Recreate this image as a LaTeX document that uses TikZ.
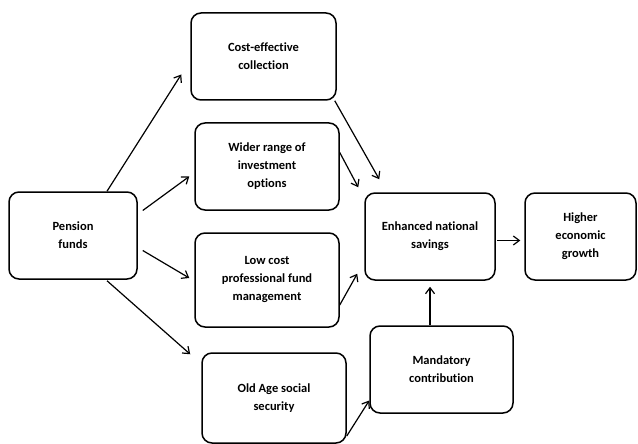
\documentclass[tikz,border=0pt]{standalone}
\usepackage{fontspec}
\setmainfont[Ligatures=NoCommon]{Carlito}
\usetikzlibrary{arrows.meta,calc}
\begin{document}
\begin{tikzpicture}[x=1pt,y=-1pt,
  box/.style={draw,rounded corners=10pt,line width=1.5pt,align=center,inner sep=0pt,font=\fontsize{12.5}{18}\selectfont\bfseries},
  arr/.style={-{Straight Barb[length=6pt,width=9pt]},line width=1.2pt}]
\useasboundingbox (0,0) rectangle (638,444);
\node[box,minimum width=128pt,minimum height=87pt] (pf) at (73,235.5) {Pension\\funds};
\node[box,minimum width=145pt,minimum height=87pt] (ce) at (263.5,56.5) {Cost-effective\\collection};
\node[box,minimum width=144pt,minimum height=87pt] (wr) at (267,166.5) {Wider range of\\investment\\options};
\node[box,minimum width=144pt,minimum height=94pt] (lc) at (267,280) {Low cost\\professional fund\\management};
\node[box,minimum width=130pt,minimum height=87pt] (en) at (430,236.5) {Enhanced national\\savings};
\node[box,minimum width=111pt,minimum height=87pt] (hg) at (580.5,236.5) {Higher\\economic\\growth};
\node[box,minimum width=143pt,minimum height=87pt] (mc) at (441.5,369.5) {Mandatory\\contribution};
\node[box,minimum width=144pt,minimum height=90pt] (oa) at (274,398) {Old Age social\\security};
\draw[arr] ($(pf.north)+(34,0)$) -- ($(ce.west)+(-9,18)$);
\draw[arr] ($(pf.east)+(5,-25)$) -- ($(wr.west)+(-5,10)$);
\draw[arr] ($(pf.east)+(5,15)$) -- ($(lc.west)+(-5,-2)$);
\draw[arr] ($(pf.south)+(34,1)$) -- ($(oa.north west)+(-11,2)$);
\draw[arr] ($(ce.south east)+(-2,0)$) -- ($(en.north west)+(15,-13)$);
\draw[arr] ($(wr.east)+(0,-14)$) -- ($(en.north west)+(-6,-5)$);
\draw[arr] ($(lc.east)+(0,25)$) -- ($(en.south west)+(-7,-7)$);
\draw[arr] ($(oa.east)+(0,38)$) -- ($(mc.west)+(0,31)$);
\draw[arr] (en.south |- mc.north) -- ($(en.south)+(0,6)$);
\draw[arr] ($(en.east)+(1,4)$) -- ($(hg.west)+(-4,4)$);
\end{tikzpicture}
\end{document}
